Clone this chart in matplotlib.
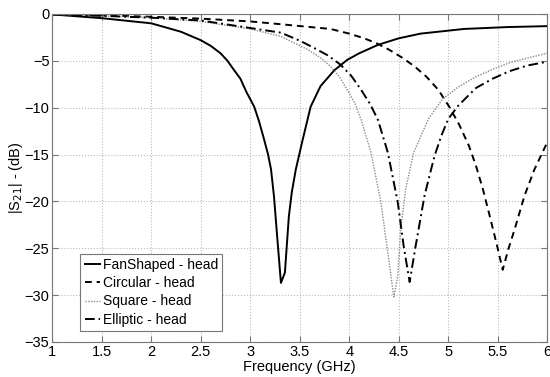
import matplotlib
matplotlib.use("Agg")
import matplotlib.pyplot as plt

plt.rcParams['font.family'] = ['Liberation Sans', 'DejaVu Sans']

# FanShaped - head
f_fan = [1.0, 1.5, 2.0, 2.3, 2.5, 2.6, 2.7, 2.77, 2.83, 2.9, 2.96, 3.04, 3.09, 3.14, 3.18,
         3.21, 3.24, 3.27, 3.31, 3.35, 3.39, 3.42, 3.46, 3.53, 3.61, 3.71, 3.85, 3.98, 4.1,
         4.29, 4.5, 4.72, 5.16, 5.6, 6.0]
s_fan = [-0.05, -0.45, -1.0, -1.9, -2.8, -3.4, -4.2, -5.0, -5.9, -6.9, -8.3, -9.9, -11.5, -13.4, -15.0,
         -16.6, -19.5, -23.5, -28.7, -27.6, -21.6, -19.0, -16.6, -13.4, -9.9, -7.7, -6.0, -4.9, -4.2,
         -3.3, -2.6, -2.1, -1.6, -1.4, -1.3]

# Circular - head
f_circ = [1.0, 1.5, 2.0, 2.5, 3.0, 3.26, 3.51, 3.81, 4.0, 4.15, 4.27, 4.4, 4.54, 4.66,
          4.78, 4.9, 5.01, 5.11, 5.21, 5.28, 5.35, 5.42, 5.49, 5.55, 5.61, 5.67, 5.77,
          5.87, 6.0]
s_circ = [-0.05, -0.15, -0.3, -0.5, -0.8, -1.05, -1.3, -1.6, -2.1, -2.6, -3.1, -3.8, -4.7, -5.6,
          -6.7, -8.1, -9.9, -11.8, -14.1, -16.2, -18.7, -21.6, -24.6, -27.3, -25.0, -23.0, -19.4,
          -16.6, -13.7]

# Square - head
f_sq = [1.0, 1.5, 2.0, 2.5, 3.0, 3.31, 3.58, 3.7, 3.81, 3.9, 3.98, 4.06, 4.12, 4.22, 4.32,
        4.39, 4.45, 4.49, 4.52, 4.57, 4.65, 4.8, 4.94, 5.1, 5.28, 5.45, 5.62, 5.8, 6.0]
s_sq = [-0.05, -0.2, -0.4, -0.8, -1.6, -2.4, -3.8, -4.6, -5.6, -6.7, -8.1, -9.6, -11.3, -14.8, -20.1,
        -25.5, -30.2, -28.0, -23.0, -18.7, -14.8, -11.2, -9.1, -7.8, -6.7, -5.9, -5.2, -4.7, -4.2]

# Elliptic - head
f_ell = [1.0, 1.5, 2.0, 2.5, 3.0, 3.31, 3.51, 3.64, 3.78, 3.91, 4.02, 4.12, 4.21, 4.29,
         4.39, 4.49, 4.55, 4.61, 4.67, 4.76, 4.86, 4.93, 5.0, 5.1, 5.28, 5.45, 5.62, 5.8, 6.0]
s_ell = [-0.05, -0.2, -0.4, -0.7, -1.5, -2.0, -2.9, -3.6, -4.4, -5.4, -6.6, -8.1, -9.6, -11.3,
         -14.8, -20.1, -24.8, -28.6, -24.8, -19.4, -15.2, -13.0, -11.2, -9.8, -7.9, -6.9, -6.1, -5.5, -5.1]

xticks = [1, 1.5, 2, 2.5, 3, 3.5, 4, 4.5, 5, 5.5, 6]
yticks = [0, -5, -10, -15, -20, -25, -30, -35]

fig = plt.figure(figsize=(5.5, 3.77), dpi=100)
ax = fig.add_axes([0.095, 0.093, 0.9, 0.87])

ax.plot(f_fan, s_fan, color='k', linestyle='-', linewidth=1.4, label="FanShaped - head")
ax.plot(f_circ, s_circ, color='k', linestyle=(0, (3.5, 2.5)), linewidth=1.4, label="Circular - head")
ax.plot(f_sq, s_sq, color='#8a8a8a', linestyle=(0, (1, 1)), linewidth=1.0, label="Square - head")
ax.plot(f_ell, s_ell, color='k', linestyle=(0, (5, 2, 1, 2)), linewidth=1.4, label="Elliptic - head")

ax.set_xlim(1, 6)
ax.set_ylim(-35, 0)
ax.set_xticks(xticks)
ax.set_xticklabels([("%g" % t) for t in xticks])
ax.set_yticks(yticks)
ax.grid(True, color='#bbbbbb', linestyle=':', linewidth=0.8)
ax.tick_params(direction='in', top=True, right=True, labelsize=10.5, length=4,
               color='#777777', pad=2)
for sp in ax.spines.values():
    sp.set_color('#777777')

ax.set_xlabel("Frequency (GHz)", fontsize=10.5, labelpad=1)
ax.set_ylabel("|S$_{21}$| - (dB)", fontsize=10.5, labelpad=0)

leg = ax.legend(loc='lower left', bbox_to_anchor=(0.057, 0.034), borderaxespad=0,
                fontsize=10, handlelength=1.1, handletextpad=0.2, labelspacing=0.3,
                borderpad=0.3, fancybox=False, framealpha=1)
leg.get_frame().set_edgecolor('#777777')
leg.get_frame().set_linewidth(0.8)

fig.savefig("out.png", dpi=100)
